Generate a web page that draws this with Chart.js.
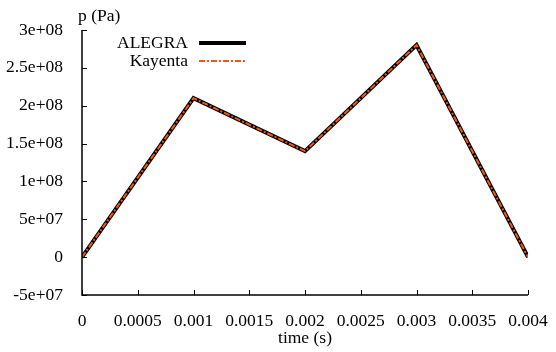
<!DOCTYPE html>
<html>
<head>
<meta charset="utf-8">
<script src="https://cdn.jsdelivr.net/npm/chart.js@4"></script>
<style>
  html, body { margin: 0; padding: 0; background: #fff; }
  #wrap { width: 556px; height: 352px; }
</style>
</head>
<body>
<div id="wrap"><canvas id="pressao"></canvas></div>
<script>
// dados
const times = [0, 0.001, 0.002, 0.003, 0.004];
const alegra = [0, 2.1e8, 1.4e8, 2.8e8, 0];
const kayenta = [0, 2.1e8, 1.4e8, 2.8e8, 0];
const seriesNames = ['ALEGRA', 'Kayenta'];
const xTickLabels = ['0', '0.0005', '0.001', '0.0015', '0.002', '0.0025', '0.003', '0.0035', '0.004'];
const yTickLabels = ['-5e+07', '0', '5e+07', '1e+08', '1.5e+08', '2e+08', '2.5e+08', '3e+08'];

const FONT = 'Liberation Serif, Times New Roman, serif';
const FSIZE = 17.5;

// eixos com marcas para dentro, legenda e titulos
const eixosPlugin = {
  id: 'eixos',
  afterDraw(chart) {
    const ctx = chart.ctx;
    const a = chart.chartArea;
    const xs = chart.scales.x;
    const ys = chart.scales.y;
    ctx.save();
    ctx.strokeStyle = '#000';
    ctx.lineWidth = 1.5;
    ctx.beginPath();
    ctx.moveTo(a.left, a.top);
    ctx.lineTo(a.left, a.bottom);
    ctx.lineTo(a.right, a.bottom);
    ctx.stroke();
    ctx.lineWidth = 1;
    xs.ticks.forEach(t => {
      const px = Math.round(xs.getPixelForValue(t.value)) + 0.5;
      ctx.beginPath();
      ctx.moveTo(px, a.bottom);
      ctx.lineTo(px, a.bottom - 5);
      ctx.stroke();
    });
    ys.ticks.forEach(t => {
      const py = Math.round(ys.getPixelForValue(t.value)) + 0.5;
      ctx.beginPath();
      ctx.moveTo(a.left, py);
      ctx.lineTo(a.left + 5, py);
      ctx.stroke();
    });

    ctx.fillStyle = '#000';
    ctx.font = FSIZE + 'px ' + FONT;
    ctx.textBaseline = 'middle';
    ctx.textAlign = 'left';
    ctx.fillText('p (Pa)', a.left - 4, 16);
    ctx.textAlign = 'center';
    ctx.fillText('time (s)', (a.left + a.right) / 2, 338);

    // legenda
    ctx.textAlign = 'right';
    chart.data.datasets.forEach((ds, i) => {
      const y = a.top + 13 + i * 18;
      ctx.fillStyle = '#000';
      ctx.fillText(ds.label, a.left + 106, y);
      ctx.beginPath();
      ctx.strokeStyle = ds.borderColor;
      ctx.lineWidth = ds.borderWidth;
      ctx.setLineDash(ds.borderDash || []);
      ctx.moveTo(a.left + 117, y);
      ctx.lineTo(a.left + 164, y);
      ctx.stroke();
      ctx.setLineDash([]);
    });
    ctx.restore();
  }
};

const ctx = document.getElementById('pressao').getContext('2d');
const meuGrafico = new Chart(ctx, {
  type: 'line',
  data: {
    datasets: [{
      label: seriesNames[0],
      data: times.map((t, i) => ({ x: t, y: alegra[i] })),
      borderColor: '#000000',
      borderWidth: 4,
      pointRadius: 0,
      tension: 0,
      order: 1,
    }, {
      label: seriesNames[1],
      data: times.map((t, i) => ({ x: t, y: kayenta[i] })),
      borderColor: '#f4570f',
      borderWidth: 2,
      borderDash: [6, 2, 2, 2],
      pointRadius: 0,
      tension: 0,
      order: 0,
    }],
  },
  options: {
    responsive: true,
    maintainAspectRatio: false,
    animation: false,
    layout: { padding: { top: 30, right: 28, left: 0, bottom: 0 } },
    plugins: {
      legend: { display: false },
      tooltip: { enabled: false },
    },
    scales: {
      x: {
        type: 'linear',
        min: 0,
        max: 0.004,
        afterBuildTicks: s => { s.ticks = xTickLabels.map(l => ({ value: parseFloat(l) })); },
        afterFit: s => { s.height = 57; },
        border: { display: false },
        grid: { display: false },
        ticks: {
          color: '#000',
          padding: 8,
          maxRotation: 0,
          font: { family: FONT, size: FSIZE },
          callback: (v, i) => xTickLabels[i],
        },
      },
      y: {
        min: -5e7,
        max: 3e8,
        afterBuildTicks: s => { s.ticks = yTickLabels.map(l => ({ value: parseFloat(l) })); },
        afterFit: s => { s.width = 82; },
        border: { display: false },
        grid: { display: false },
        ticks: {
          color: '#000',
          padding: 11,
          font: { family: FONT, size: FSIZE },
          callback: (v, i) => yTickLabels[i],
        },
      },
    },
  },
  plugins: [eixosPlugin],
});
</script>
</body>
</html>
